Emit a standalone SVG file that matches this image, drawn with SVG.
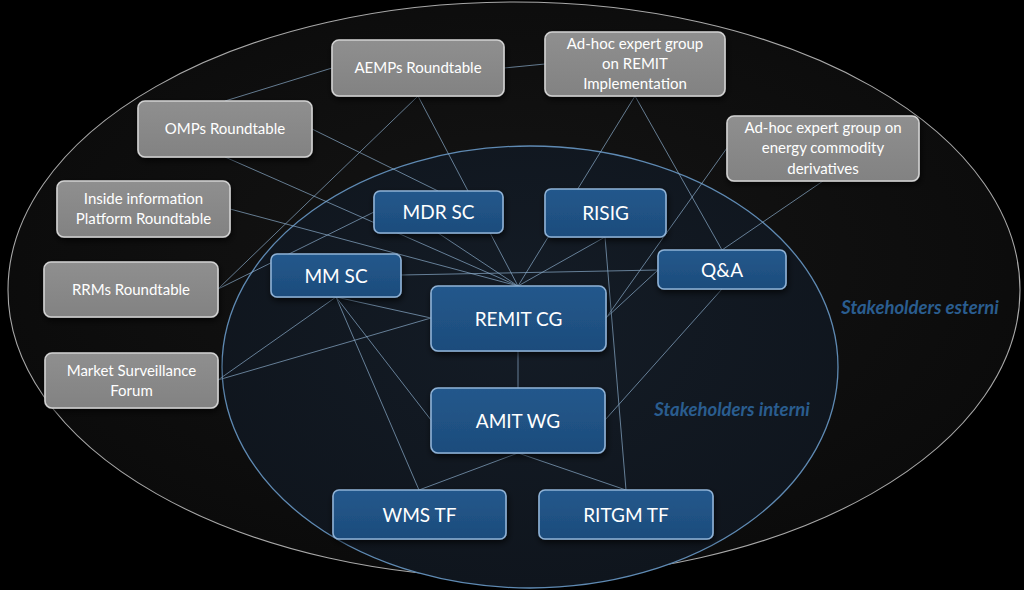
<svg xmlns="http://www.w3.org/2000/svg" width="1024" height="590" viewBox="0 0 1024 590">
<defs>
<radialGradient id="gOuter" cx="0.5" cy="0.45" r="0.6">
<stop offset="0" stop-color="#151515"/>
<stop offset="1" stop-color="#0a0a0a"/>
</radialGradient>
<radialGradient id="gInner" cx="0.5" cy="0.4" r="0.6">
<stop offset="0" stop-color="#141c26"/>
<stop offset="1" stop-color="#0f151d"/>
</radialGradient>
<linearGradient id="gGray" x1="0" y1="0" x2="0" y2="1">
<stop offset="0" stop-color="#8f8f8f"/>
<stop offset="1" stop-color="#828282"/>
</linearGradient>
<linearGradient id="gBlue" x1="0" y1="0" x2="0" y2="1">
<stop offset="0" stop-color="#23588c"/>
<stop offset="1" stop-color="#1d4c7c"/>
</linearGradient>
<filter id="sh" x="-20%" y="-20%" width="140%" height="160%">
<feDropShadow dx="1" dy="3" stdDeviation="3" flood-color="#000" flood-opacity="0.7"/>
</filter>
</defs>
<style>
.gray rect{fill:url(#gGray);stroke:#d2d2d2;stroke-width:1.6;filter:url(#sh)}
.blue rect{fill:url(#gBlue);stroke:#8fb2d6;stroke-width:1.6;filter:url(#sh)}
.gray text{font-family:Lato,"Liberation Sans",sans-serif;font-size:15px;fill:#ffffff;text-anchor:middle}
.blue text{font-family:Lato,"Liberation Sans",sans-serif;font-size:19px;fill:#ffffff;text-anchor:middle}
.conn line{stroke:#8fb0cf;stroke-width:0.8;stroke-opacity:0.85}
.lbl{font-family:Lato,"Liberation Sans",sans-serif;font-size:18.5px;font-weight:bold;font-style:italic;fill:#2a5d8f;text-anchor:middle}
</style>
<rect x="0" y="0" width="1024" height="590" fill="#000"/>
<g id="ellipses">
<ellipse cx="514" cy="290" rx="506" ry="288" fill="url(#gOuter)" stroke="#a8a8a8" stroke-width="1.1"/>
<ellipse cx="530" cy="367" rx="308" ry="221" fill="url(#gInner)" stroke="#5f8ab3" stroke-width="1.3"/>
</g>
<text class="lbl" x="920" y="314">Stakeholders esterni</text>
<text class="lbl" x="732" y="416">Stakeholders interni</text>
<g class="conn" id="connectors">
<line x1="332" y1="68" x2="225" y2="101"/>
<line x1="504" y1="68" x2="545" y2="64"/>
<line x1="418" y1="96" x2="218" y2="289"/>
<line x1="418" y1="96" x2="518" y2="286"/>
<line x1="312" y1="129" x2="438" y2="191"/>
<line x1="225" y1="157" x2="518" y2="286"/>
<line x1="230" y1="209" x2="518" y2="286"/>
<line x1="218" y1="289" x2="374" y2="212"/>
<line x1="218" y1="380" x2="336" y2="297"/>
<line x1="218" y1="380" x2="431" y2="318"/>
<line x1="438" y1="233" x2="518" y2="286"/>
<line x1="401" y1="275" x2="658" y2="270"/>
<line x1="336" y1="297" x2="431" y2="318"/>
<line x1="336" y1="297" x2="431" y2="420"/>
<line x1="336" y1="297" x2="419" y2="490"/>
<line x1="635" y1="96" x2="518" y2="286"/>
<line x1="635" y1="96" x2="722" y2="250"/>
<line x1="727" y1="148" x2="606" y2="318"/>
<line x1="823" y1="181" x2="722" y2="250"/>
<line x1="605" y1="237" x2="518" y2="286"/>
<line x1="605" y1="237" x2="626" y2="490"/>
<line x1="658" y1="270" x2="606" y2="318"/>
<line x1="722" y1="289" x2="605" y2="420"/>
<line x1="518" y1="351" x2="518" y2="388"/>
<line x1="518" y1="453" x2="419" y2="490"/>
<line x1="518" y1="453" x2="626" y2="490"/>
</g>
<g id="aemps" class="gray"><rect x="332" y="40" width="172" height="56" rx="7"/><text x="418" y="73">AEMPs Roundtable</text></g>
<g id="omps" class="gray"><rect x="138" y="101" width="174" height="56" rx="7"/><text x="225" y="134">OMPs Roundtable</text></g>
<g id="insideinfo" class="gray"><rect x="57" y="181" width="173" height="56" rx="7"/><text x="143.5" y="204">Inside information</text><text x="143.5" y="224">Platform Roundtable</text></g>
<g id="rrms" class="gray"><rect x="44" y="262" width="174" height="55" rx="7"/><text x="131" y="295">RRMs Roundtable</text></g>
<g id="msf" class="gray"><rect x="45" y="353" width="173" height="55" rx="7"/><text x="131.5" y="376">Market Surveillance</text><text x="131.5" y="396">Forum</text></g>
<g id="adhocremit" class="gray"><rect x="545" y="32" width="180" height="64" rx="7"/><text x="635" y="49">Ad-hoc expert group</text><text x="635" y="69">on REMIT</text><text x="635" y="89">Implementation</text></g>
<g id="adhocenergy" class="gray"><rect x="727" y="116" width="192" height="65" rx="7"/><text x="823" y="133">Ad-hoc expert group on</text><text x="823" y="153">energy commodity</text><text x="823" y="174">derivatives</text></g>
<g id="mdrsc" class="blue"><rect x="374" y="191" width="129" height="42" rx="6"/><text x="438.5" y="219">MDR SC</text></g>
<g id="risig" class="blue"><rect x="545" y="189" width="121" height="48" rx="6"/><text x="605.5" y="220">RISIG</text></g>
<g id="mmsc" class="blue"><rect x="271" y="254" width="130" height="43" rx="6"/><text x="336" y="282.5">MM SC</text></g>
<g id="qa" class="blue"><rect x="658" y="250" width="128" height="39" rx="6"/><text x="722" y="276.5">Q&amp;A</text></g>
<g id="remitcg" class="blue"><rect x="431" y="286" width="175" height="65" rx="7"/><text x="518.5" y="325.5">REMIT CG</text></g>
<g id="amitwg" class="blue"><rect x="431" y="388" width="174" height="65" rx="7"/><text x="518" y="427.5">AMIT WG</text></g>
<g id="wmstf" class="blue"><rect x="333" y="490" width="173" height="49" rx="6"/><text x="419.5" y="521.5">WMS TF</text></g>
<g id="ritgmtf" class="blue"><rect x="539" y="490" width="174" height="49" rx="6"/><text x="626" y="521.5">RITGM TF</text></g>
</svg>
